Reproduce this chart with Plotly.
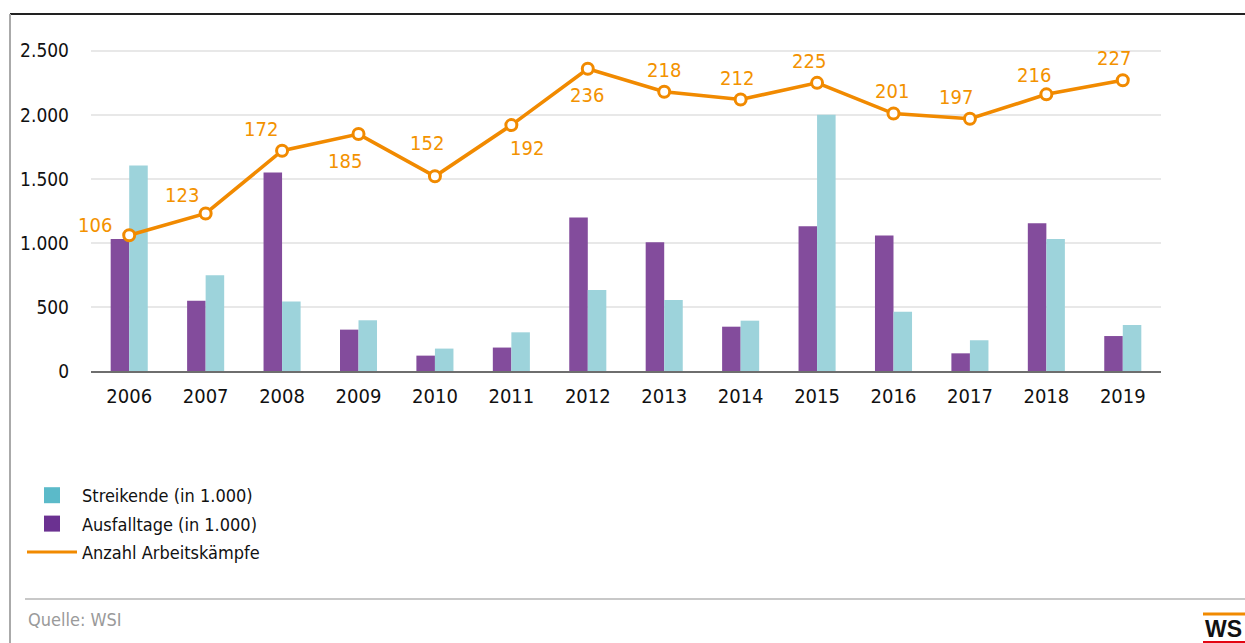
import plotly.graph_objects as go

years = ["2006", "2007", "2008", "2009", "2010", "2011", "2012",
         "2013", "2014", "2015", "2016", "2017", "2018", "2019"]
ausfalltage = [1031, 549, 1549, 323, 120, 183, 1198, 1005, 346, 1130, 1057, 138, 1154, 273]
streikende = [1605, 747, 542, 396, 175, 302, 633, 555, 393, 2000, 463, 240, 1031, 359]
arbeitskaempfe = [106, 123, 172, 185, 152, 192, 236, 218, 212, 225, 201, 197, 216, 227]

# label offsets (pixels, dx right, dy down) relative to each point
label_dx = [-34, -24, -21, -14, -8, 16, -1, 0, -4, -8, -2, -14, -12, -9]
label_dy = [-10, -18, -22, 27, -33, 23, 26, -22, -21, -22, -23, -22, -19, -22]

FONT = "DejaVu Sans Condensed, Liberation Sans Narrow, sans-serif"
W, H = 1245, 643
ML, MR, MT, MB = 91, 84, 38, 272
PW, PH = W - ML - MR, H - MT - MB


def px(x):
    return (x - ML) / PW


def py(y):
    return (H - MB - y) / PH


PURPLE = "#834C9C"
TEAL = "#9DD3DB"
PURPLE_L = "#6B3191"
TEAL_L = "#5BBAC9"
ORANGE = "#F18A00"

fig = go.Figure()
fig.add_trace(go.Bar(x=years, y=ausfalltage, marker_color=PURPLE, marker_line_width=0,
                     showlegend=False, name="Ausfalltage (in 1.000)"))
fig.add_trace(go.Bar(x=years, y=streikende, marker_color=TEAL, marker_line_width=0,
                     showlegend=False, name="Streikende (in 1.000)"))
fig.add_trace(go.Scatter(x=years, y=arbeitskaempfe, yaxis="y2", mode="lines+markers",
                         line=dict(color=ORANGE, width=3.6),
                         marker=dict(size=11, color="white", line=dict(color=ORANGE, width=3)),
                         showlegend=False, name="Anzahl Arbeitskämpfe", cliponaxis=False))

# legend entries
fig.add_trace(go.Scatter(x=[None], y=[None], mode="markers", name="Streikende (in 1.000)",
                         marker=dict(symbol="square", size=22, color=TEAL_L),
                         legendgroup="a", legendrank=1))
fig.add_trace(go.Scatter(x=[None], y=[None], mode="markers", name="Ausfalltage (in 1.000)",
                         marker=dict(symbol="square", size=22, color=PURPLE_L),
                         legendgroup="b", legendrank=2))
fig.add_trace(go.Scatter(x=[None], y=[None], mode="lines", name="Anzahl Arbeitskämpfe",
                         line=dict(color=ORANGE, width=3),
                         legendgroup="c", legendrank=3))

annotations = []
for i, (v, dx, dy) in enumerate(zip(arbeitskaempfe, label_dx, label_dy)):
    annotations.append(dict(x=i, y=v, xref="x", yref="y2", text=str(v), showarrow=False,
                            xshift=dx, yshift=-dy, font=dict(family=FONT, size=20, color="#F39200")))

annotations.append(dict(x=px(26), y=py(619), xref="paper", yref="paper", text="Quelle: WSI",
                        showarrow=False, xanchor="left", yanchor="middle",
                        font=dict(family=FONT, size=18, color="#9a9a9a")))
annotations.append(dict(x=px(1203), y=py(629), xref="paper", yref="paper", text="<b>WS</b>",
                        showarrow=False, xanchor="left", yanchor="middle",
                        font=dict(family="Liberation Sans, Arial, sans-serif", size=23, color="#111")))

shapes = [
    dict(type="line", xref="paper", yref="paper", x0=px(10), x1=px(1245), y0=py(14), y1=py(14),
         line=dict(color="#222222", width=2)),
    dict(type="line", xref="paper", yref="paper", x0=px(10), x1=px(10), y0=py(14), y1=py(643),
         line=dict(color="#aaaaaa", width=2)),
    dict(type="line", xref="paper", yref="paper", x0=px(25), x1=px(1245), y0=py(599), y1=py(599),
         line=dict(color="#c8c8c8", width=2)),
    dict(type="line", xref="paper", yref="paper", x0=px(1203), x1=px(1245), y0=py(614), y1=py(614),
         line=dict(color="#F18A00", width=3)),
    dict(type="line", xref="paper", yref="paper", x0=px(1203), x1=px(1245), y0=py(642), y1=py(642),
         line=dict(color="#E30613", width=2)),
]

fig.update_layout(
    width=W, height=H,
    margin=dict(l=ML, r=MR, t=MT, b=MB),
    plot_bgcolor="white", paper_bgcolor="white",
    separators=",.",
    barmode="group", bargap=0.515, bargroupgap=0,
    font=dict(family=FONT, color="#111111"),
    xaxis=dict(type="category", showgrid=False, showline=True, linecolor="#6e6e6e", linewidth=2,
               ticks="", tickfont=dict(family=FONT, size=20, color="#111"), ticklabelstandoff=6,
               range=[-0.5, 13.5]),
    yaxis=dict(range=[0, 2600], tickvals=[0, 500, 1000, 1500, 2000, 2500], tickformat=",d",
               showgrid=True, gridcolor="#e8e8e8", gridwidth=2, zeroline=False, showline=False,
               tickfont=dict(family=FONT, size=19, color="#111"), ticklabelstandoff=21),
    yaxis2=dict(range=[0, 260], overlaying="y", showgrid=False, zeroline=False, showline=False,
                showticklabels=False, ticks=""),
    legend=dict(x=px(22), y=py(477), xanchor="left", yanchor="top", traceorder="grouped",
                tracegroupgap=2, font=dict(family=FONT, size=18, color="#111"),
                bgcolor="rgba(0,0,0,0)", itemwidth=50),
    annotations=annotations,
    shapes=shapes,
)

fig.write_html("out.html", config={"displayModeBar": False},
               post_script="document.body.style.margin='0px';")
